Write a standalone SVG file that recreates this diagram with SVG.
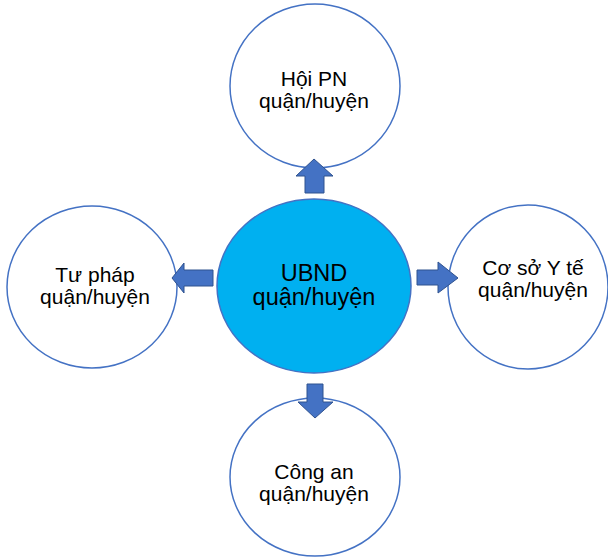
<svg xmlns="http://www.w3.org/2000/svg" width="608" height="559" viewBox="0 0 608 559">
<style>
.node{fill:#ffffff;stroke:#4472C4;stroke-width:1.5}
.hub{fill:#00B0F0;stroke:#4472C4;stroke-width:1.5}
.arrow{fill:#4472C4;stroke:#2F528F;stroke-width:1}
text{font-family:"Liberation Sans",Arial,sans-serif;fill:#000;text-anchor:middle}
.s{font-size:21px}
.c{font-size:23.5px}
</style>
<rect width="608" height="559" fill="#ffffff"/>
<g id="hub">
<ellipse class="hub" cx="314" cy="286" rx="97" ry="87"/>
<text class="c" x="314" y="281">UBND</text>
<text class="c" x="314" y="305">quận/huyện</text>
</g>
<g id="hoi-pn">
<ellipse class="node" cx="315" cy="86" rx="85" ry="82"/>
<text class="s" x="314" y="86">Hội PN</text>
<text class="s" x="314" y="108">quận/huyện</text>
</g>
<g id="tu-phap">
<ellipse class="node" cx="92" cy="287" rx="85" ry="81"/>
<text class="s" x="95" y="282">Tư pháp</text>
<text class="s" x="95" y="304">quận/huyện</text>
</g>
<g id="co-so-y-te">
<ellipse class="node" cx="528" cy="287" rx="80" ry="82"/>
<text class="s" x="533" y="275">Cơ sở Y tế</text>
<text class="s" x="533" y="297">quận/huyện</text>
</g>
<g id="cong-an">
<ellipse class="node" cx="315" cy="477" rx="85" ry="79"/>
<text class="s" x="314" y="479">Công an</text>
<text class="s" x="314" y="501">quận/huyện</text>
</g>
<g id="connectors">
<polygon class="arrow" points="314,159 333,176 324,176 324,193 305,193 305,176 296,176"/>
<polygon class="arrow" points="172,278 184,263 184,270 213,270 213,286 184,286 184,293"/>
<polygon class="arrow" points="458,278 438,262 438,270 417,270 417,285 438,285 438,293"/>
<polygon class="arrow" points="315,418 333,402 323,402 323,384 307,384 307,402 298,402"/>
</g>
</svg>
